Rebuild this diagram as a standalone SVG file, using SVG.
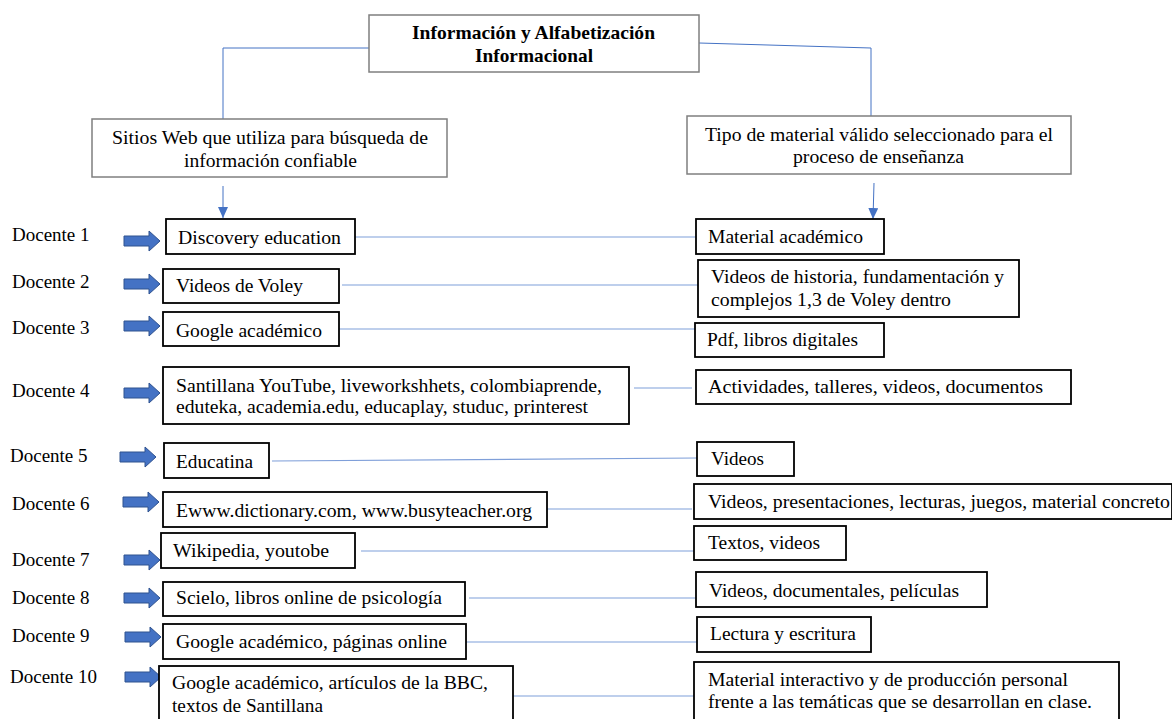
<svg xmlns="http://www.w3.org/2000/svg" width="1172" height="719" viewBox="0 0 1172 719">
<style>
text{font-family:"Liberation Serif","Times New Roman",serif;font-size:19px;fill:#000}
.b{font-weight:bold}
.gbox{fill:#fff;stroke:#7f7f7f;stroke-width:1.5}
.box{fill:#fff;stroke:#000;stroke-width:1.8}
.top{fill:none;stroke:#4472c4;stroke-width:1}
.con{fill:none;stroke:#7f9fd9;stroke-width:1.2}
.barrow{fill:#4472c4;stroke:#2f528f;stroke-width:1}
</style>
<defs>
<marker id="ah" markerWidth="12" markerHeight="10" refX="11" refY="5" orient="auto" markerUnits="userSpaceOnUse">
<path d="M0,0 L11,5 L0,10 Z" fill="#4472c4"/>
</marker>
<path id="bar" d="M0,-5 L25,-5 L25,-10 L36,0 L25,10 L25,5 L0,5 Z"/>
</defs>
<g id="connectors">
<polyline class="top" points="369,48 223,48 223,119"/>
<polyline class="top" points="699,43 871,48 871,117"/>
<line class="top" x1="223" y1="186" x2="223" y2="218" marker-end="url(#ah)"/>
<line class="top" x1="874" y1="183" x2="873" y2="219" marker-end="url(#ah)"/>
<line class="con" x1="355" y1="237" x2="696" y2="237"/>
<line class="con" x1="342" y1="285" x2="698" y2="285"/>
<line class="con" x1="339" y1="329" x2="695" y2="329"/>
<line class="con" x1="634" y1="388" x2="692" y2="388"/>
<line class="con" x1="272" y1="461" x2="697" y2="458"/>
<line class="con" x1="547" y1="509" x2="692" y2="509"/>
<line class="con" x1="361" y1="551" x2="694" y2="551"/>
<line class="con" x1="469" y1="598" x2="696" y2="598"/>
<line class="con" x1="466" y1="642" x2="697" y2="642"/>
<line class="con" x1="513" y1="696" x2="697" y2="696"/>
</g>
<g id="title">
<rect class="gbox" x="369" y="15" width="330" height="57"/>
<text class="b" x="412" y="39" textLength="243" lengthAdjust="spacingAndGlyphs">Información y Alfabetización</text>
<text class="b" x="475" y="62" textLength="118" lengthAdjust="spacingAndGlyphs">Informacional</text>
</g>
<g id="sitios">
<rect class="gbox" x="92" y="119" width="355" height="58"/>
<text x="112" y="144" textLength="316" lengthAdjust="spacingAndGlyphs">Sitios Web que utiliza para búsqueda de</text>
<text x="184" y="167" textLength="173" lengthAdjust="spacingAndGlyphs">información confiable</text>
</g>
<g id="tipo">
<rect class="gbox" x="687" y="116" width="384" height="58"/>
<text x="705" y="141" textLength="348" lengthAdjust="spacingAndGlyphs">Tipo de material válido seleccionado para el</text>
<text x="793" y="163" textLength="171" lengthAdjust="spacingAndGlyphs">proceso de enseñanza</text>
</g>
<g id="docentes">
<text x="12" y="241">Docente 1</text>
<text x="12" y="288">Docente 2</text>
<text x="12" y="334">Docente 3</text>
<text x="12" y="397">Docente 4</text>
<text x="10" y="462">Docente 5</text>
<text x="12" y="510">Docente 6</text>
<text x="12" y="566">Docente 7</text>
<text x="12" y="604">Docente 8</text>
<text x="12" y="642">Docente 9</text>
<text x="10" y="683">Docente 10</text>
</g>
<g id="block-arrows">
<use href="#bar" class="barrow" x="124" y="241"/>
<use href="#bar" class="barrow" x="124" y="284"/>
<use href="#bar" class="barrow" x="124" y="326"/>
<use href="#bar" class="barrow" x="124" y="393"/>
<use href="#bar" class="barrow" x="120" y="457"/>
<use href="#bar" class="barrow" x="123" y="502"/>
<use href="#bar" class="barrow" x="124" y="560"/>
<use href="#bar" class="barrow" x="124" y="598"/>
<use href="#bar" class="barrow" x="125" y="637"/>
<use href="#bar" class="barrow" x="125" y="677"/>
</g>
<g id="sitio-1"><rect class="box" x="166" y="219" width="189" height="35"/><text x="178" y="244" textLength="163" lengthAdjust="spacingAndGlyphs">Discovery education</text></g>
<g id="sitio-2"><rect class="box" x="163" y="269" width="176" height="34"/><text x="176" y="292" textLength="127" lengthAdjust="spacingAndGlyphs">Videos de Voley</text></g>
<g id="sitio-3"><rect class="box" x="163" y="312" width="176" height="34"/><text x="176" y="337" textLength="146" lengthAdjust="spacingAndGlyphs">Google académico</text></g>
<g id="sitio-4"><rect class="box" x="163" y="367" width="466" height="57"/><text x="176" y="392" textLength="426" lengthAdjust="spacingAndGlyphs">Santillana YouTube, liveworkshhets, colombiaprende,</text><text x="176" y="413" textLength="412" lengthAdjust="spacingAndGlyphs">eduteka, academia.edu, educaplay, studuc, printerest</text></g>
<g id="sitio-5"><rect class="box" x="164" y="443" width="105" height="35"/><text x="176" y="468" textLength="77" lengthAdjust="spacingAndGlyphs">Educatina</text></g>
<g id="sitio-6"><rect class="box" x="163" y="492" width="384" height="35"/><text x="176" y="517" textLength="356" lengthAdjust="spacingAndGlyphs">Ewww.dictionary.com, www.busyteacher.org</text></g>
<g id="sitio-7"><rect class="box" x="161" y="533" width="194" height="35"/><text x="173" y="557" textLength="156" lengthAdjust="spacingAndGlyphs">Wikipedia, youtobe</text></g>
<g id="sitio-8"><rect class="box" x="163" y="582" width="302" height="34"/><text x="176" y="604" textLength="266" lengthAdjust="spacingAndGlyphs">Scielo, libros online de psicología</text></g>
<g id="sitio-9"><rect class="box" x="163" y="624" width="303" height="35"/><text x="176" y="648" textLength="271" lengthAdjust="spacingAndGlyphs">Google académico, páginas online</text></g>
<g id="sitio-10"><rect class="box" x="159" y="666" width="354" height="60"/><text x="172" y="689" textLength="316" lengthAdjust="spacingAndGlyphs">Google académico, artículos de la BBC,</text><text x="172" y="712" textLength="151" lengthAdjust="spacingAndGlyphs">textos de Santillana</text></g>
<g id="material-1"><rect class="box" x="696" y="219" width="188" height="35"/><text x="708" y="243" textLength="155" lengthAdjust="spacingAndGlyphs">Material académico</text></g>
<g id="material-2"><rect class="box" x="698" y="260" width="321" height="57"/><text x="711" y="283" textLength="293" lengthAdjust="spacingAndGlyphs">Videos de historia, fundamentación y</text><text x="711" y="306" textLength="240" lengthAdjust="spacingAndGlyphs">complejos 1,3 de Voley dentro</text></g>
<g id="material-3"><rect class="box" x="695" y="323" width="189" height="34"/><text x="707" y="346" textLength="151" lengthAdjust="spacingAndGlyphs">Pdf, libros digitales</text></g>
<g id="material-4"><rect class="box" x="696" y="370" width="375" height="34"/><text x="708" y="393" textLength="335" lengthAdjust="spacingAndGlyphs">Actividades, talleres, videos,  documentos</text></g>
<g id="material-5"><rect class="box" x="697" y="442" width="97" height="34"/><text x="711" y="465" textLength="53" lengthAdjust="spacingAndGlyphs">Videos</text></g>
<g id="material-6"><rect class="box" x="694" y="484" width="478" height="35"/><text x="708" y="508" textLength="462" lengthAdjust="spacingAndGlyphs">Videos, presentaciones, lecturas, juegos, material concreto</text></g>
<g id="material-7"><rect class="box" x="694" y="526" width="152" height="34"/><text x="708" y="549" textLength="112" lengthAdjust="spacingAndGlyphs">Textos, videos</text></g>
<g id="material-8"><rect class="box" x="696" y="572" width="291" height="35"/><text x="709" y="597" textLength="250" lengthAdjust="spacingAndGlyphs">Videos, documentales, películas</text></g>
<g id="material-9"><rect class="box" x="697" y="617" width="174" height="35"/><text x="710" y="640" textLength="146" lengthAdjust="spacingAndGlyphs">Lectura y escritura</text></g>
<g id="material-10"><rect class="box" x="694" y="662" width="425" height="64"/><text x="708" y="686" textLength="360" lengthAdjust="spacingAndGlyphs">Material interactivo y de producción personal</text><text x="708" y="708" textLength="384" lengthAdjust="spacingAndGlyphs">frente a las temáticas que se desarrollan en clase.</text></g>
</svg>
